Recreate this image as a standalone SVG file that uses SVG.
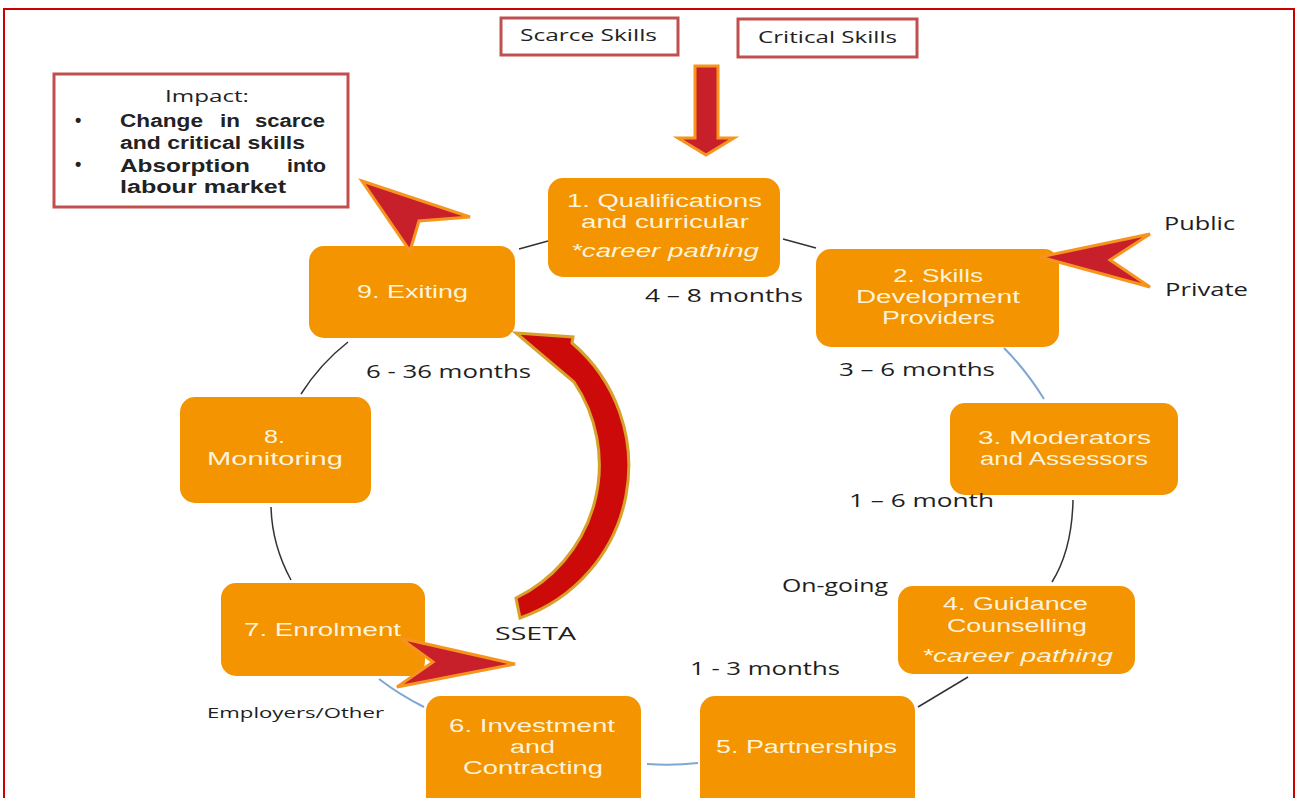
<svg xmlns="http://www.w3.org/2000/svg" width="1301" height="798" viewBox="0 0 1301 798">
<style>
.node{fill:#f39400;}
.nt{font-family:"Liberation Sans",Arial,sans-serif;font-size:18px;fill:#fdf3dc;}
.it{font-style:italic;}
.lb{font-family:"Open Sans","DejaVu Sans",sans-serif;font-size:18px;fill:#1e1e1e;}
.sm{font-size:15px;}
.bx{fill:#ffffff;stroke:#c0504d;stroke-width:3;}
.bt{font-family:"Open Sans","DejaVu Sans",sans-serif;font-size:17px;fill:#222;}
.bi{font-family:"Liberation Sans",Arial,sans-serif;font-size:18px;fill:#222;font-weight:bold;}
.cd{fill:none;stroke:#333;stroke-width:1.5;}
.cb{fill:none;stroke:#7fa7d6;stroke-width:2;}
.ar{fill:#c8202a;stroke:#f7941d;stroke-width:3;stroke-linejoin:miter;}
.ss{fill:#cc0a0a;stroke:#d7a12a;stroke-width:3;}
</style>
<rect x="0" y="0" width="1301" height="798" fill="#ffffff"/>
<rect x="4" y="9" width="1290" height="800" fill="none" stroke="#cc0000" stroke-width="2"/>

<g id="scarce-skills">
<rect class="bx" x="501" y="18" width="177" height="37"/>
<text class="bt" x="520" y="41" textLength="137" lengthAdjust="spacingAndGlyphs">Scarce Skills</text>
</g>
<g id="critical-skills">
<rect class="bx" x="738" y="19" width="179" height="38"/>
<text class="bt" x="758" y="43" textLength="139" lengthAdjust="spacingAndGlyphs">Critical Skills</text>
</g>

<g id="impact">
<rect class="bx" x="54" y="74" width="294" height="133" stroke-width="2.5"/>
<text class="bt" x="165" y="102" textLength="84" lengthAdjust="spacingAndGlyphs">Impact:</text>
<text class="bi" x="75" y="126">•</text>
<text class="bi" x="75" y="170">•</text>
<text class="bi" x="120" y="127" textLength="83" lengthAdjust="spacingAndGlyphs">Change</text>
<text class="bi" x="220" y="127" textLength="20" lengthAdjust="spacingAndGlyphs">in</text>
<text class="bi" x="255" y="127" textLength="70" lengthAdjust="spacingAndGlyphs">scarce</text>
<text class="bi" x="120" y="149" textLength="185" lengthAdjust="spacingAndGlyphs">and critical skills</text>
<text class="bi" x="120" y="172" textLength="130" lengthAdjust="spacingAndGlyphs">Absorption</text>
<text class="bi" x="287" y="172" textLength="39" lengthAdjust="spacingAndGlyphs">into</text>
<text class="bi" x="120" y="193" textLength="166" lengthAdjust="spacingAndGlyphs">labour market</text>
</g>

<g id="connectors">
<line class="cd" x1="519" y1="249" x2="548" y2="241"/>
<line class="cd" x1="783" y1="239" x2="816" y2="248"/>
<path class="cb" d="M1004,348 Q1026,370 1044,399"/>
<path class="cd" d="M1073,500 Q1072,550 1052,582"/>
<line class="cd" x1="968" y1="677" x2="918" y2="707"/>
<path class="cb" d="M647,764 Q672,766 698,763"/>
<path class="cb" d="M379,679 Q400,695 424,707"/>
<path class="cd" d="M291,580 Q272,545 271,507"/>
<path class="cd" d="M301,394 Q320,364 348,342"/>
</g>

<g id="n1">
<rect class="node" x="548" y="178" width="232" height="99" rx="15"/>
<text class="nt" x="567" y="207" textLength="195" lengthAdjust="spacingAndGlyphs">1. Qualifications</text>
<text class="nt" x="581" y="228" textLength="168" lengthAdjust="spacingAndGlyphs">and curricular</text>
<text class="nt it" x="571" y="257" textLength="188" lengthAdjust="spacingAndGlyphs">*career pathing</text>
</g>
<g id="n2">
<rect class="node" x="816" y="249" width="243" height="98" rx="15"/>
<text class="nt" x="893" y="282" textLength="90" lengthAdjust="spacingAndGlyphs">2. Skills</text>
<text class="nt" x="856" y="303" textLength="164" lengthAdjust="spacingAndGlyphs">Development</text>
<text class="nt" x="882" y="324" textLength="113" lengthAdjust="spacingAndGlyphs">Providers</text>
</g>
<g id="n3">
<rect class="node" x="950" y="403" width="228" height="92" rx="15"/>
<text class="nt" x="978" y="444" textLength="173" lengthAdjust="spacingAndGlyphs">3. Moderators</text>
<text class="nt" x="980" y="465" textLength="168" lengthAdjust="spacingAndGlyphs">and Assessors</text>
</g>
<g id="n4">
<rect class="node" x="898" y="586" width="237" height="88" rx="15"/>
<text class="nt" x="943" y="610" textLength="145" lengthAdjust="spacingAndGlyphs">4. Guidance</text>
<text class="nt" x="947" y="632" textLength="140" lengthAdjust="spacingAndGlyphs">Counselling</text>
<text class="nt it" x="922" y="662" textLength="191" lengthAdjust="spacingAndGlyphs">*career pathing</text>
</g>
<g id="n5">
<rect class="node" x="700" y="696" width="215" height="120" rx="15"/>
<text class="nt" x="716" y="753" textLength="181" lengthAdjust="spacingAndGlyphs">5. Partnerships</text>
</g>
<g id="n6">
<rect class="node" x="426" y="696" width="215" height="120" rx="15"/>
<text class="nt" x="449" y="732" textLength="166" lengthAdjust="spacingAndGlyphs">6. Investment</text>
<text class="nt" x="510" y="753" textLength="45" lengthAdjust="spacingAndGlyphs">and</text>
<text class="nt" x="463" y="774" textLength="140" lengthAdjust="spacingAndGlyphs">Contracting</text>
</g>
<g id="n7">
<rect class="node" x="221" y="583" width="204" height="93" rx="15"/>
<text class="nt" x="244" y="636" textLength="157" lengthAdjust="spacingAndGlyphs">7. Enrolment</text>
</g>
<g id="n8">
<rect class="node" x="180" y="397" width="191" height="106" rx="15"/>
<text class="nt" x="264" y="443" textLength="21" lengthAdjust="spacingAndGlyphs">8.</text>
<text class="nt" x="207" y="465" textLength="136" lengthAdjust="spacingAndGlyphs">Monitoring</text>
</g>
<g id="n9">
<rect class="node" x="309" y="246" width="206" height="92" rx="15"/>
<text class="nt" x="357" y="298" textLength="111" lengthAdjust="spacingAndGlyphs">9. Exiting</text>
</g>

<g id="labels">
<text class="lb" x="645" y="302" textLength="158" lengthAdjust="spacingAndGlyphs">4 – 8 months</text>
<text class="lb" x="839" y="376" textLength="156" lengthAdjust="spacingAndGlyphs">3 – 6 months</text>
<text class="lb" x="849" y="507" textLength="145" lengthAdjust="spacingAndGlyphs">1 – 6 month</text>
<text class="lb" x="782" y="592" textLength="106" lengthAdjust="spacingAndGlyphs">On-going</text>
<text class="lb" x="690" y="675" textLength="150" lengthAdjust="spacingAndGlyphs">1 - 3 months</text>
<text class="lb" x="366" y="378" textLength="165" lengthAdjust="spacingAndGlyphs">6 - 36 months</text>
<text class="lb" x="495" y="640" textLength="81" lengthAdjust="spacingAndGlyphs">SSETA</text>
<text class="lb sm" x="207" y="718" textLength="177" lengthAdjust="spacingAndGlyphs">Employers/Other</text>
<text class="lb" x="1164" y="230" textLength="71" lengthAdjust="spacingAndGlyphs">Public</text>
<text class="lb" x="1165" y="296" textLength="83" lengthAdjust="spacingAndGlyphs">Private</text>
</g>

<g id="arrows">
<path class="ar" d="M695,66 H718 V138 H734 L706,155 L678,138 H695 Z"/>
<path class="ar" d="M1150,234 L1040,257 L1150,287 L1110,260 Z"/>
<path class="ar" d="M362,181 L470,217 L419,221 L410,251 Z"/>
<path class="ar" d="M400,638 L515,664 L397,687 L433,662 Z"/>
<path class="ss" d="M516,333 L573,337 L572,343 A161,161 0 0 1 520,618 L516,598 A148,148 0 0 0 574,382 Z"/>
</g>
</svg>
